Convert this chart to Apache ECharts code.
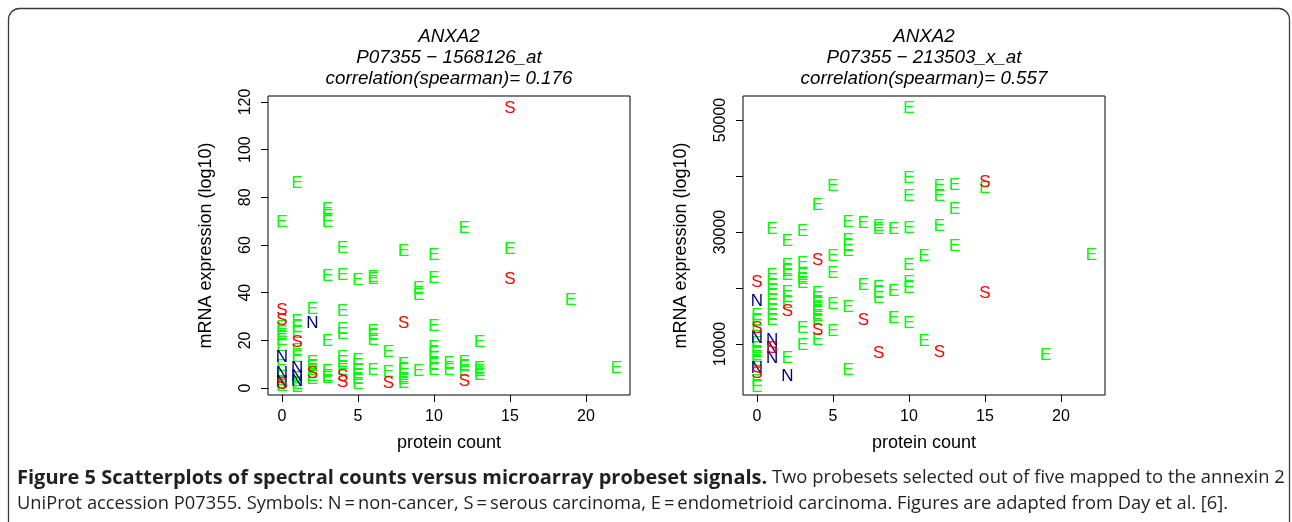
<!DOCTYPE html>
<html>
<head>
<meta charset="utf-8">
<script src="https://cdn.jsdelivr.net/npm/echarts@6/dist/echarts.min.js"></script>
<style>
html, body { margin: 0; padding: 0; background: #fff; }
#chart { width: 1292px; height: 522px; }
</style>
</head>
<body>
<div id="chart"></div>
<script>
// left panel: P07355 - 1568126_at  [protein count, mRNA expression]
const leftE = [
    [0, 69.5], [0, 25.5], [0, 23.5], [0, 22], [0, 20], [0, 17.5], [0, 9], [0, 4.5], [0, 2], [0, 0.8],
    [1, 86], [1, 28], [1, 25.5], [1, 23], [1, 16], [1, 13], [1, 4], [1, 1.5], [1, 0.5],
    [2, 33], [2, 11], [2, 9], [2, 7.5], [2, 5], [2, 3.5],
    [3, 75], [3, 72], [3, 69.5], [3, 47], [3, 19.5], [3, 7], [3, 5], [3, 4],
    [4, 58.5], [4, 47.5], [4, 32], [4, 24.5], [4, 22.5], [4, 13], [4, 11], [4, 7.5],
    [5, 45.3], [5, 11.5], [5, 9.5], [5, 7.5], [5, 5.5], [5, 3.5], [5, 1.5],
    [6, 46.5], [6, 45.5], [6, 24], [6, 22], [6, 20], [6, 7.5],
    [7, 15], [7, 6.5],
    [8, 57.5], [8, 10], [8, 7.5], [8, 5.5], [8, 3.5], [8, 2],
    [9, 42], [9, 39], [9, 7],
    [10, 55.8], [10, 46], [10, 25.7], [10, 17.3], [10, 14.5], [10, 12.4], [10, 9.6], [10, 7.6],
    [11, 10.4], [11, 7.6],
    [12, 67], [12, 11], [12, 9], [12, 7],
    [13, 19], [13, 8.4], [13, 6.9], [13, 5.5],
    [15, 58.2], [19, 36.9], [22, 8.3]
];
const leftS = [
    [0, 32.5], [0, 28.5], [0, 1.5], [1, 19.4], [2, 6], [4, 5], [4, 2.5],
    [7, 2], [8, 27], [12, 2.7], [15, 117.4], [15, 45.6]
];
const leftN = [
    [0, 13.1], [0, 6.1], [0, 2.6], [1, 8.5], [1, 5], [1, 3], [2, 27]
];

// right panel: P07355 - 213503_x_at
const rightE = [
    [0, 15200], [0, 14000], [0, 13200], [0, 10200], [0, 9300], [0, 8500], [0, 7700], [0, 6900], [0, 3300], [0, 2200],
    [1, 30500], [1, 22300], [1, 21400], [1, 20500], [1, 19600], [1, 18700], [1, 17800], [1, 16900], [1, 16000], [1, 15100], [1, 14200],
    [2, 28300], [2, 24000], [2, 23000], [2, 22200], [2, 19300], [2, 18300], [2, 17300], [2, 7450],
    [3, 30050], [3, 24400], [3, 22300], [3, 21600], [3, 20800], [3, 12800], [3, 9800],
    [4, 34800], [4, 19000], [4, 18200], [4, 17400], [4, 16600], [4, 15800], [4, 15000], [4, 14200], [4, 10700],
    [5, 38100], [5, 25600], [5, 22600], [5, 17000], [5, 12200],
    [6, 31650], [6, 28600], [6, 27500], [6, 26500], [6, 16500], [6, 5350],
    [7, 31500], [7, 20500],
    [8, 31000], [8, 30500], [8, 20200], [8, 19100], [8, 18150],
    [9, 30500], [9, 19350], [9, 14600],
    [10, 52100], [10, 39600], [10, 36400], [10, 30650], [10, 24100], [10, 21100], [10, 19950], [10, 13700],
    [11, 25600], [11, 10400],
    [12, 38100], [12, 36300], [12, 31050],
    [13, 38400], [13, 34100], [13, 27400],
    [15, 37800], [19, 8050], [22, 25800]
];
const rightS = [
    [0, 21100], [0, 12800], [0, 4800], [1, 9300], [2, 15750], [4, 25000], [4, 12500],
    [7, 14300], [8, 8350], [12, 8600], [15, 38800], [15, 19050]
];
const rightN = [
    [0, 17550], [0, 11000], [0, 5650], [1, 10700], [1, 9250], [1, 7450], [2, 4150]
];

const xTicks = [0, 5, 10, 15, 20];
const leftYTicks = [0, 20, 40, 60, 80, 100, 120];
const rightYTicks = [10000, 20000, 30000, 40000, 50000];
const rightYLabels = [10000, 30000, 50000];

const titles = [
    ["ANXA2", "P07355 \u2212 1568126_at", "correlation(spearman)= 0.176"],
    ["ANXA2", "P07355 \u2212 213503_x_at", "correlation(spearman)= 0.557"]
];

const colors = { E: "#00ff00", S: "#ff0000", N: "#000080" };
const rFont = '"Liberation Sans", Arial, sans-serif';
const capFont = '"Open Sans", sans-serif';

const chart = echarts.init(document.getElementById("chart"));

function letters(data, letter, idx) {
    return {
        type: "custom",
        xAxisIndex: idx,
        yAxisIndex: idx,
        data: data,
        silent: true,
        renderItem: function (params, api) {
            const p = api.coord([api.value(0), api.value(1)]);
            return {
                type: "text",
                x: p[0],
                y: p[1],
                style: {
                    text: letter,
                    fill: colors[letter],
                    font: "17px " + rFont,
                    align: "center",
                    verticalAlign: "middle"
                }
            };
        }
    };
}

function xAxis(idx) {
    return {
        type: "value",
        gridIndex: idx,
        min: -0.92,
        max: 22.9,
        name: "protein count",
        nameLocation: "middle",
        nameGap: 39,
        nameTextStyle: { fontSize: 18, color: "#000", fontFamily: rFont },
        axisLine: { show: false, onZero: false },
        axisTick: { show: true, length: 7, lineStyle: { color: "#000" }, customValues: xTicks },
        axisLabel: { fontSize: 16, color: "#000", fontFamily: rFont, margin: 14, customValues: xTicks },
        splitLine: { show: false }
    };
}

function yAxis(idx, min, max, ticks, labels) {
    return {
        type: "value",
        gridIndex: idx,
        min: min,
        max: max,
        name: "mRNA expression (log10)",
        nameLocation: "middle",
        nameGap: 53,
        nameTextStyle: { fontSize: 18, color: "#000", fontFamily: rFont },
        axisLine: { show: false, onZero: false },
        axisTick: { show: true, length: 7, lineStyle: { color: "#000" }, customValues: ticks },
        axisLabel: {
            fontSize: 16, color: "#000", fontFamily: rFont, rotate: 90, margin: 14,
            customValues: labels,
            formatter: function (v) { return String(v); }
        },
        splitLine: { show: false }
    };
}

const graphics = [
    {
        type: "rect",
        shape: { x: 8.5, y: 8.5, width: 1281, height: 530, r: 11 },
        style: { fill: "none", stroke: "#3a3a3a", lineWidth: 1.3 },
        silent: true
    }
];
const centers = [449, 924];
titles.forEach(function (lines, i) {
    lines.forEach(function (t, j) {
        graphics.push({
            type: "text",
            x: centers[i],
            y: 37 + j * 21,
            style: {
                text: t,
                fill: "#000",
                font: "italic 18.8px " + rFont,
                align: "center",
                verticalAlign: "middle"
            }
        });
    });
});
graphics.push({
    type: "text",
    x: 17,
    y: 478,
    style: {
        text: "{b|Figure 5 Scatterplots of spectral counts versus microarray probeset signals.} Two probesets selected out of five mapped to the annexin 2",
        fill: "#231f20",
        font: "18.4px " + capFont,
        verticalAlign: "middle",
        rich: {
            b: { fontWeight: "bold", fontSize: 20, fontFamily: capFont, fill: "#231f20" }
        }
    }
});
graphics.push({
    type: "text",
    x: 17,
    y: 503.5,
    style: {
        text: "UniProt accession P07355. Symbols: N\u2009=\u2009non-cancer, S\u2009=\u2009serous carcinoma, E\u2009=\u2009endometrioid carcinoma. Figures are adapted from Day et al. [6].",
        fill: "#231f20",
        font: "18.3px " + capFont,
        verticalAlign: "middle"
    }
});

const option = {
    animation: false,
    backgroundColor: "#fff",
    grid: [
        { left: 268, top: 96, width: 362, height: 299, show: true, borderColor: "#000", borderWidth: 1, backgroundColor: "transparent" },
        { left: 743, top: 96, width: 362, height: 299, show: true, borderColor: "#000", borderWidth: 1, backgroundColor: "transparent" }
    ],
    xAxis: [xAxis(0), xAxis(1)],
    yAxis: [
        yAxis(0, -2.9, 122.5, leftYTicks, leftYTicks),
        yAxis(1, 890, 54290, rightYTicks, rightYLabels)
    ],
    series: [
        letters(leftE, "E", 0),
        letters(leftN, "N", 0),
        letters(leftS, "S", 0),
        letters(rightE, "E", 1),
        letters(rightN, "N", 1),
        letters(rightS, "S", 1)
    ],
    graphic: graphics
};

chart.setOption(option);
window.addEventListener("resize", function () {
    chart.resize();
});
</script>
</body>
</html>
